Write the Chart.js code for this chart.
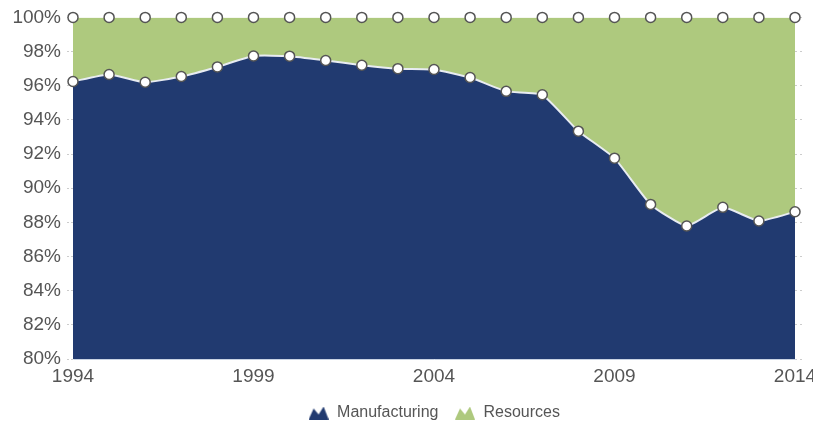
<!DOCTYPE html>
<html>
<head>
<meta charset="utf-8">
<script src="https://cdn.jsdelivr.net/npm/chart.js@4/dist/chart.umd.min.js"></script>
<style>
  html, body { margin: 0; padding: 0; background: #ffffff; }
  #wrap { width: 813px; height: 425px; position: relative; }
</style>
</head>
<body>
<div id="wrap"><canvas id="shareChart"></canvas></div>
<script>
// Datos del gráfico
const years = ['1994', '1995', '1996', '1997', '1998', '1999', '2000', '2001', '2002', '2003', '2004',
               '2005', '2006', '2007', '2008', '2009', '2010', '2011', '2012', '2013', '2014'];
const manufacturing = [96.25, 96.66, 96.2, 96.54, 97.1, 97.74, 97.73, 97.48, 97.2, 97.0, 96.95,
                       96.48, 95.67, 95.47, 93.34, 91.76, 89.05, 87.79, 88.88, 88.08, 88.62];
const resources = manufacturing.map(v => +(100 - v).toFixed(2));
const yTicks = [80, 82, 84, 86, 88, 90, 92, 94, 96, 98, 100];

const blue = '#213a70';
const green = '#aec97e';
const textColor = '#555555';

// Icono de montaña para la leyenda
function mountainIcon(color) {
    const c = document.createElement('canvas');
    c.width = 20;
    c.height = 13;
    const g = c.getContext('2d');
    g.fillStyle = color;
    g.beginPath();
    g.moveTo(0, 13);
    g.lineTo(5, 2);
    g.lineTo(10, 8);
    g.lineTo(15, 0);
    g.lineTo(20, 13);
    g.closePath();
    g.fill();
    return c;
}

const ctx = document.getElementById('shareChart').getContext('2d');
new Chart(ctx, {
    type: 'line',
    data: {
        labels: years,
        datasets: [{
            label: 'Manufacturing',
            data: manufacturing,
            backgroundColor: blue,
            borderColor: '#e8ecf2',
            borderWidth: 2,
            fill: 'origin',
            tension: 0.15,
            clip: false,
            pointRadius: 5,
            pointBackgroundColor: '#ffffff',
            pointBorderColor: '#555555',
            pointBorderWidth: 1.5,
            legendIcon: mountainIcon(blue)
        }, {
            label: 'Resources',
            data: resources,
            backgroundColor: green,
            borderColor: green,
            borderWidth: 0,
            fill: '-1',
            tension: 0.15,
            clip: false,
            pointRadius: 5,
            pointBackgroundColor: '#ffffff',
            pointBorderColor: '#555555',
            pointBorderWidth: 1.5,
            legendIcon: mountainIcon(green)
        }]
    },
    options: {
        responsive: true,
        maintainAspectRatio: false,
        animation: false,
        layout: {
            padding: { top: 17, left: 0, right: 0, bottom: -6 }
        },
        plugins: {
            legend: {
                position: 'bottom',
                fullSize: false,
                labels: {
                    color: textColor,
                    font: { family: 'Liberation Sans', size: 16 },
                    padding: 16,
                    boxWidth: 20,
                    pointStyleWidth: 21,
                    usePointStyle: true,
                    generateLabels: function(chart) {
                        return chart.data.datasets.map((ds, i) => ({
                            text: ds.label,
                            fillStyle: ds.backgroundColor,
                            strokeStyle: ds.backgroundColor,
                            lineWidth: 0,
                            pointStyle: ds.legendIcon,
                            fontColor: textColor,
                            hidden: !chart.isDatasetVisible(i),
                            datasetIndex: i
                        }));
                    }
                }
            },
            tooltip: { enabled: false }
        },
        scales: {
            x: {
                offset: false,
                grid: { display: false },
                border: { color: '#c9d3e3' },
                afterFit: function(scale) {
                    scale.height = 30;
                    scale.paddingLeft = 0;
                    scale.paddingRight = 0;
                },
                ticks: {
                    autoSkip: false,
                    maxRotation: 0,
                    padding: -2,
                    color: textColor,
                    font: { family: 'Liberation Sans', size: 19 },
                    callback: function(value, index) {
                        const y = years[index];
                        return (+y - 1994) % 5 === 0 ? y : '';
                    }
                }
            },
            y: {
                stacked: true,
                min: 80,
                max: 100,
                afterFit: function(scale) { scale.width = 73; },
                afterBuildTicks: function(scale) {
                    scale.ticks = yTicks.map(v => ({ value: v }));
                },
                border: { color: '#dde3ec' },
                grid: {
                    drawOnChartArea: false,
                    tickLength: 6,
                    tickColor: '#cccccc',
                    tickBorderDash: [2, 2]
                },
                ticks: {
                    padding: 6,
                    color: textColor,
                    font: { family: 'Liberation Sans', size: 19 },
                    callback: function(value) { return value + '%'; }
                }
            },
            y2: {
                position: 'right',
                min: 80,
                max: 100,
                afterFit: function(scale) { scale.width = 18; },
                afterBuildTicks: function(scale) {
                    scale.ticks = yTicks.map(v => ({ value: v }));
                },
                border: { display: false },
                grid: {
                    drawOnChartArea: false,
                    tickLength: 10,
                    tickColor: '#cccccc',
                    tickBorderDash: [2, 3]
                },
                ticks: { display: false }
            }
        }
    }
});
</script>
</body>
</html>
